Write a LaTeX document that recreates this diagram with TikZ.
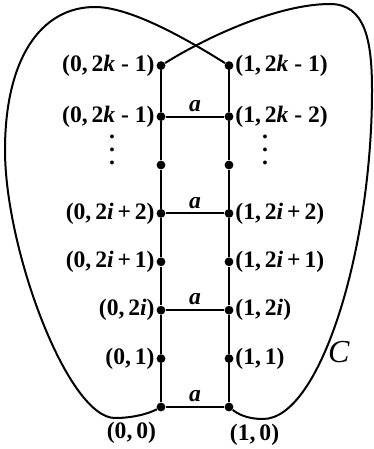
\documentclass[tikz,border=0pt]{standalone}
\usepackage{fontspec}
\setmainfont{Liberation Serif}
\usetikzlibrary{positioning}

\begin{document}
\begin{tikzpicture}[
    x=0.5pt, y=-0.5pt,
    node distance=24.2pt and 34pt,
    vtx/.style={on grid, circle, fill, inner sep=0pt, minimum size=4.4pt},
    lbl/.style={inner sep=0.6pt, font=\fontsize{11.8}{14}\selectfont\bfseries},
    edgelbl/.style={lbl, above, inner sep=2pt},
    dotlbl/.style={inner sep=0pt, font=\fontsize{11.8}{14}\selectfont\bfseries},
    ln/.style={line width=1pt}
]
\useasboundingbox (0,0) rectangle (374,449);

% --- Left column ---
\node[vtx] (l0) at (161,407) {};
\node[vtx, above=of l0] (l1) {};
\node[vtx, above=of l1] (l2i) {};
\node[vtx, above=of l2i] (l2i1) {};
\node[vtx, above=of l2i1] (l2i2) {};
\node[vtx, above=of l2i2] (ld) {};
\node[vtx, above=of ld] (lk2) {};
\node[vtx, above=25.5pt of lk2] (lk1) {};

% --- Right column ---
\node[vtx, right=of l0] (r0) {};
\node[vtx, right=of l1] (r1) {};
\node[vtx, right=of l2i] (r2i) {};
\node[vtx, right=of l2i1] (r2i1) {};
\node[vtx, right=of l2i2] (r2i2) {};
\node[vtx, right=of ld] (rd) {};
\node[vtx, right=of lk2] (rk2) {};
\node[vtx, right=of lk1] (rk1) {};

% --- Vertex labels ---
\node[lbl, left=0pt of lk1] {(0,\,2\textit{k} - 1)};
\node[lbl, left=0pt of lk2] {(0,\,2\textit{k} - 1)};
\node[lbl, left=0pt of l2i2] {(0,\,2\textit{i}\,+\,2)};
\node[lbl, left=0pt of l2i1] {(0,\,2\textit{i}\,+\,1)};
\node[lbl, left=0pt of l2i] {(0,\,2\textit{i})};
\node[lbl, left=0pt of l1] {(0,\,1)};
\node[lbl, below left=5pt and 0pt of l0] {(0,\,0)};
\node[lbl, right=0pt of rk1] {(1,\,2\textit{k} - 1)};
\node[lbl, right=0pt of rk2] {(1,\,2\textit{k} - 2)};
\node[lbl, right=0pt of r2i2] {(1,\,2\textit{i}\,+\,2)};
\node[lbl, right=0pt of r2i1] {(1,\,2\textit{i}\,+\,1)};
\node[lbl, right=0pt of r2i] {(1,\,2\textit{i})};
\node[lbl, right=0pt of r1] {(1,\,1)};
\node[lbl, below right=6pt and -2pt of r0] {(1,\,0)};
\foreach \y in {137,150,163} {
    \node[dotlbl] (ldot\y) at (112,\y) {.};
    \node[dotlbl] (rdot\y) at (265,\y) {.};
}

% --- Ladder ---
\draw[ln] (lk1) -- (lk2) -- (ld) -- (l2i2) -- (l2i1) -- (l2i) -- (l1) -- (l0);
\draw[ln] (rk1) -- (rk2) -- (rd) -- (r2i2) -- (r2i1) -- (r2i) -- (r1) -- (r0);
\draw[ln] (lk2) -- node[edgelbl] {\textit{a}} (rk2);
\draw[ln] (l2i2) -- node[edgelbl] {\textit{a}} (r2i2);
\draw[ln] (l2i) -- node[edgelbl] {\textit{a}} (r2i);
\draw[ln] (l0) -- node[edgelbl] {\textit{a}} (r0);

% --- Curve C ---
\draw[ln] (l0) .. controls (148,414) and (132,418) .. (115,418)
    .. controls (68,418) and (5,250) .. (5,150)
    .. controls (5,60) and (40,7) .. (95,7)
    .. controls (130,7) and (185,38) .. (rk1);
\draw[ln] (lk1) .. controls (210,35) and (280,4) .. (330,4)
    .. controls (365,4) and (372,40) .. (372,90)
    .. controls (372,250) and (320,419) .. (263,419)
    .. controls (247,419) and (238,414) .. (r0);
\node[lbl, font=\fontsize{16}{19}\selectfont] (clab) at (339,352) {\textit{C}};
\end{tikzpicture}
\end{document}
